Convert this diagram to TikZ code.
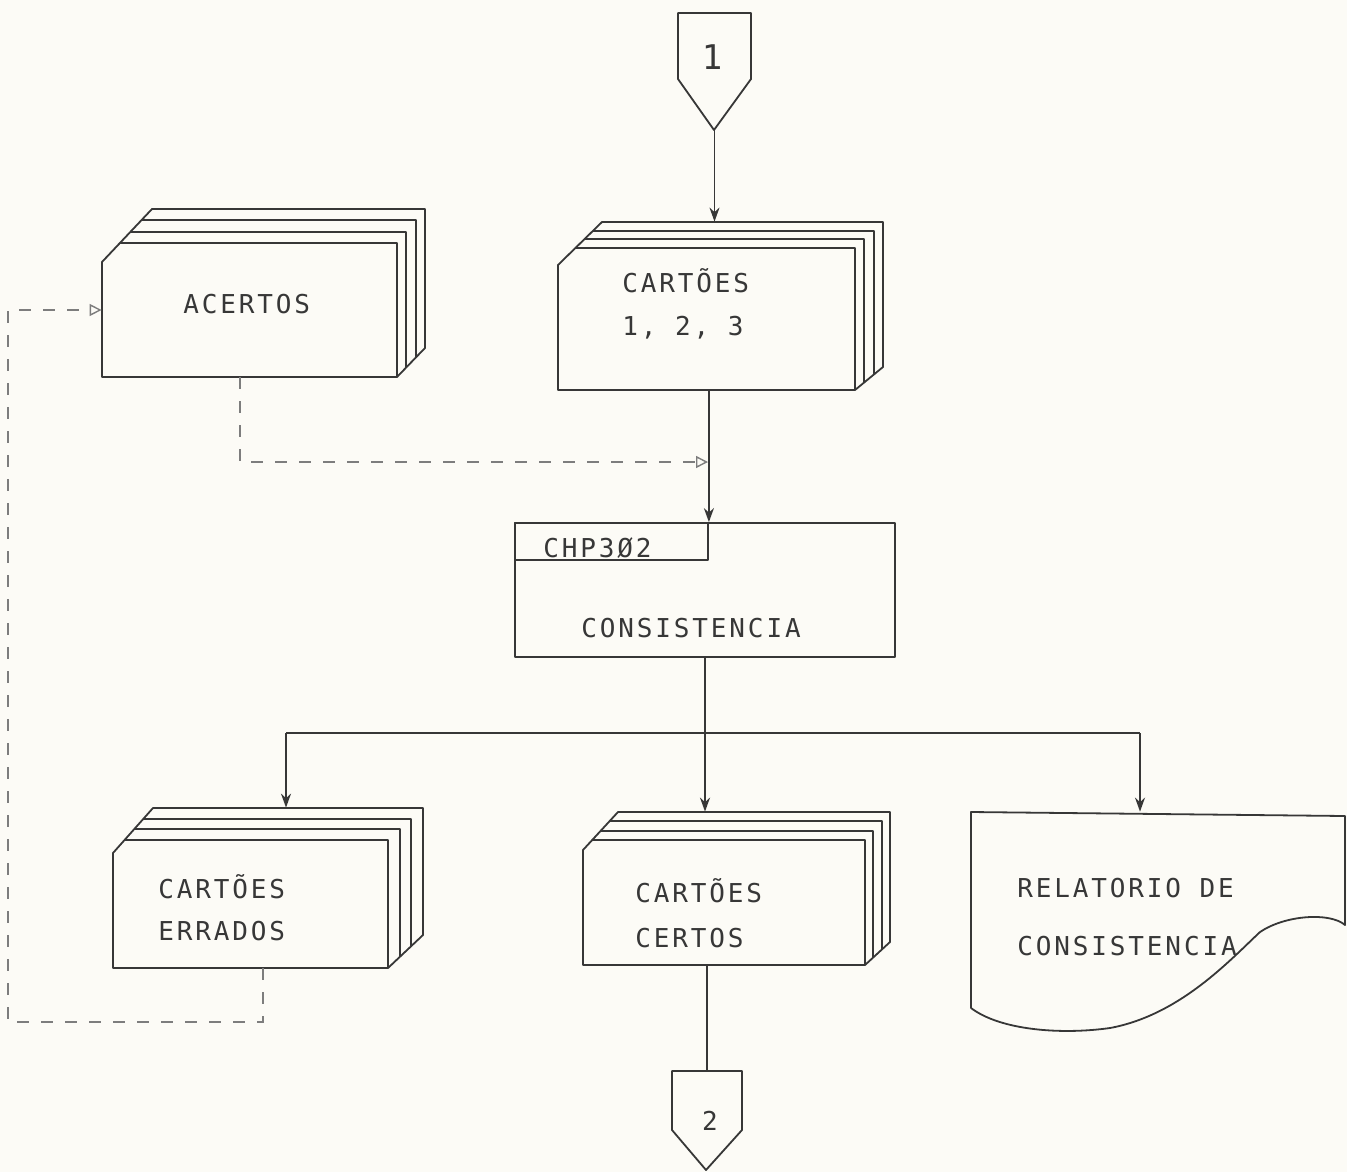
\documentclass[tikz,border=0pt]{standalone}
\usepackage{fontspec}
\usetikzlibrary{arrows.meta,fit}
\newfontfamily\plotfont{DejaVu Sans Mono}[LetterSpace=11]
\definecolor{ink}{RGB}{55,55,55}
\definecolor{paper}{RGB}{252,251,246}
\definecolor{dashink}{RGB}{125,125,125}
\tikzset{
 deckline/.style={draw=ink, line width=0.9pt, line join=round},
 outline/.style={draw=ink, line width=0.9pt, line join=round},
 conn/.style={draw=ink, line width=0.9pt, -{Stealth[length=7pt,width=5pt]}},
 plainconn/.style={draw=ink, line width=0.9pt},
 dashconn/.style={draw=dashink, line width=0.7pt, dash pattern=on 6pt off 6pt},
 openhead/.style={-{Triangle[open,length=6pt,width=6pt]}},
 lbl/.style={font={\plotfont\fontsize{13}{15}\selectfont}, text=ink, inner sep=0pt, anchor=base west},
 area/.style={inner sep=0pt, draw=none},
}
% #1 L, #2 T, #3 R, #4 B, #5 dx, #6 dy, #7 chamfer, #8 back-left x, #9 back bottom rise
\newcommand\carddeck[9]{%
 \draw[deckline] (#1,#4) -- (#1,#2+#7) -- (#8,#2-#6) -- (#3+#5,#2-#6) -- (#3+#5,#4-#9) -- (#3,#4) -- cycle;
 \foreach \k in {0,1,2}{%
   \pgfmathsetmacro\yk{#2-\k*#6/3}%
   \pgfmathsetmacro\xs{#1+(#2+#7-\yk)*(#8-#1)/(#7+#6)}%
   \pgfmathsetmacro\xe{#3+\k*#5/3}%
   \pgfmathsetmacro\yb{#4-\k*#9/3}%
   \draw[deckline] (\xs,\yk) -- (\xe,\yk) -- (\xe,\yb);
 }}
\begin{document}
\begin{tikzpicture}[x=0.5pt,y=-0.5pt]
\useasboundingbox (0,0) rectangle (1347,1172);
\fill[paper] (0,0) rectangle (1347,1172);

% off-page connector 1
\draw[outline] (678,13) -- (751,13) -- (751,79) -- (714,130) -- (678,79) -- cycle;
\node[area, fit={(678,13) (751,130)}] (c1) {};
\node[lbl, font={\plotfont\fontsize{17}{18}\selectfont}, anchor=base] (c1t) at (712,70) {1};

% decks
\carddeck{558}{248}{855}{390}{28}{26}{17}{602}{23}
\node[area, fit={(558,222) (883,390)}] (cartoes) {};
\node[lbl] (cartoesA) at (622,292) {CARTÕES};
\node[lbl] (cartoesB) at (622,335) {1, 2, 3};

\carddeck{102}{243}{397}{377}{28}{34}{19}{152}{29}
\node[area, fit={(102,209) (425,377)}] (acertos) {};
\node[lbl] (acertosT) at (183,313) {ACERTOS};

\carddeck{113}{840}{388}{968}{35}{32}{13}{153}{33}
\node[area, fit={(113,808) (423,968)}] (errados) {};
\node[lbl] (erradosA) at (158,898) {CARTÕES};
\node[lbl] (erradosB) at (158,940) {ERRADOS};

\carddeck{583}{840}{865}{965}{25}{28}{10}{618}{23}
\node[area, fit={(583,812) (890,965)}] (certos) {};
\node[lbl] (certosA) at (635,902) {CARTÕES};
\node[lbl] (certosB) at (635,947) {CERTOS};

% process box
\node[outline, area, draw=ink, fit={(515,523) (895,657)}] (proc) {};
\node[outline, area, draw=ink, fit={(515,523) (708,560)}] (proclabel) {};
\node[lbl] (procid) at (543,557) {CHP3Ø2};
\node[lbl] (procname) at (581,637) {CONSISTENCIA};

% document
\draw[outline] (971,1008) -- (971,812) -- (1345,816) -- (1345,925)
  .. controls (1330,912) and (1285,915) .. (1260,932)
  .. controls (1230,960) and (1180,1015) .. (1110,1028)
  .. controls (1060,1035) and (1000,1030) .. (971,1008);
\node[area, fit={(971,812) (1345,1030)}] (relat) {};
\node[lbl] (relatA) at (1017,897) {RELATORIO DE};
\node[lbl] (relatB) at (1017,955) {CONSISTENCIA};

% off-page connector 2
\draw[outline] (672,1071) -- (742,1071) -- (742,1130) -- (706,1170) -- (672,1130) -- cycle;
\node[area, fit={(672,1071) (742,1170)}] (c2) {};
\node[lbl, anchor=base] (c2t) at (710,1130) {2};

% connectors
\draw[conn] (c1.south) -- (c1.south |- cartoes.north);
\draw[conn] (proclabel.north east |- cartoes.south) -- (proclabel.north east);
\coordinate (merge) at (708,462);
\coordinate (acdrop) at (240,462);
\draw[dashconn, openhead] (acdrop |- acertos.south) -- (acdrop) -- (merge);

\draw[conn] (proc.south) -- (proc.south |- certos.north);
\coordinate (brL) at (286,733);
\coordinate (brR) at (1140,733);
\draw[plainconn] (brL) -- (brR);
\draw[conn] (brL) -- (brL |- errados.north);
\draw[conn] (brR) -- (brR |- relat.north);

\coordinate (lpR) at (263,1022);
\coordinate (lpL) at (8,1022);
\coordinate (lpT) at (8,310);
\draw[dashconn, openhead] (lpR |- errados.south) -- (lpR) -- (lpL) -- (lpT) -- (lpT -| acertos.west);

\draw[plainconn] (certos.south -| c2.north) -- (c2.north);
\end{tikzpicture}
\end{document}
